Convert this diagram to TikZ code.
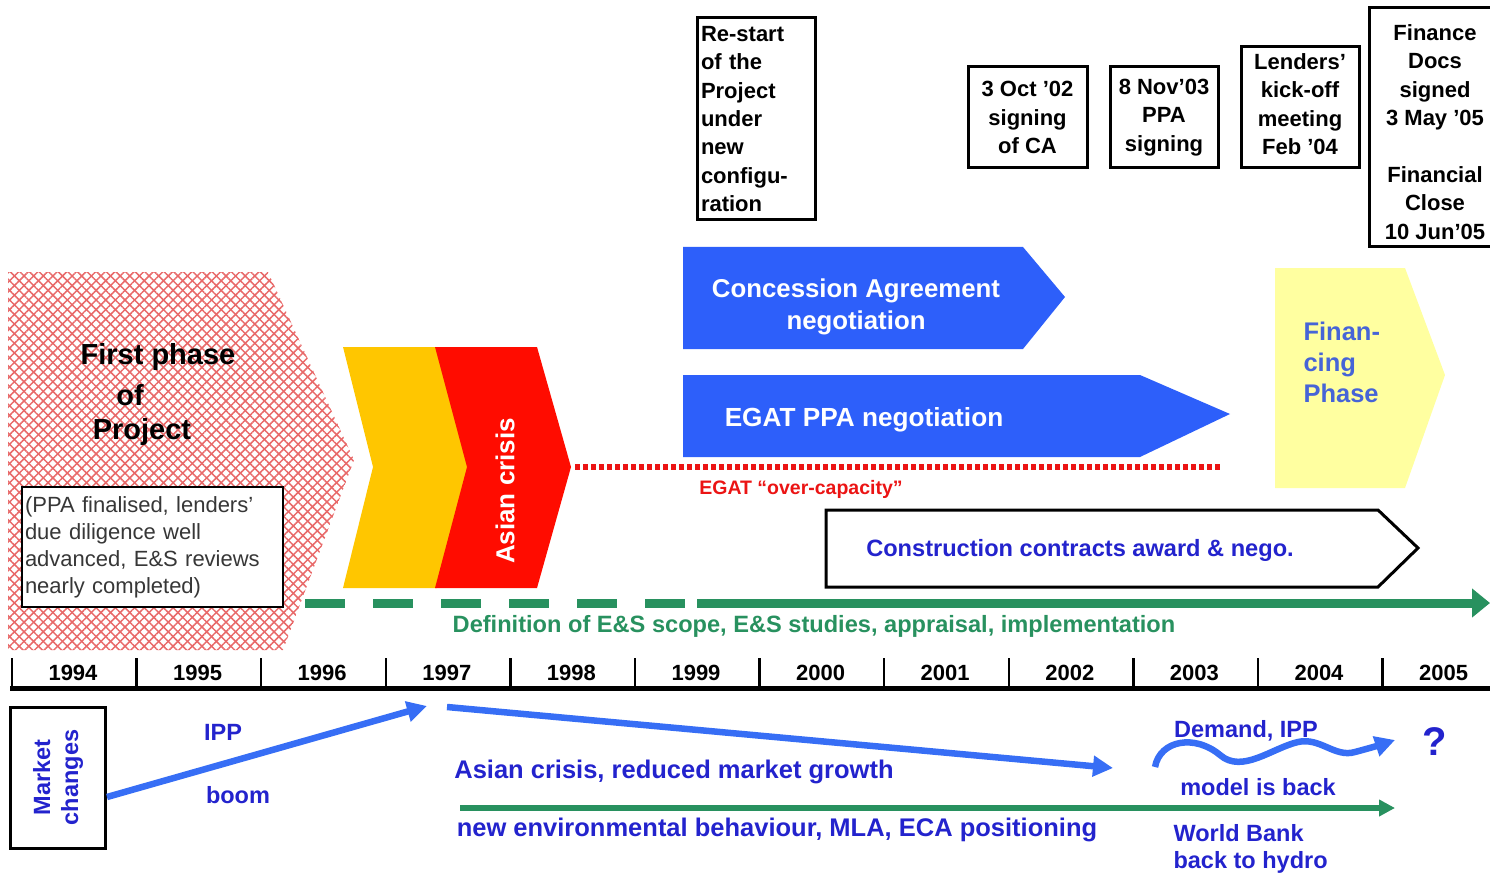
\documentclass[tikz,border=0pt]{standalone}
\usepackage{fontspec}
\setmainfont{Liberation Sans}
\usetikzlibrary{arrows.meta,patterns.meta}

\definecolor{cablue}{RGB}{45,95,250}
\definecolor{arrblue}{RGB}{55,110,245}
\definecolor{txtblue}{RGB}{35,35,205}
\definecolor{finblue}{RGB}{70,100,215}
\definecolor{esgreen}{RGB}{40,145,95}
\definecolor{chevyellow}{RGB}{255,198,0}
\definecolor{chevred}{RGB}{255,12,0}
\definecolor{paleyellow}{RGB}{255,255,160}
\definecolor{hatchred}{RGB}{232,105,105}
\definecolor{dotred}{RGB}{235,20,20}
\definecolor{notegray}{RGB}{55,55,55}

\newcommand\fsz[2]{\fontsize{#1}{#2}\selectfont}

\tikzset{
  datebox/.style={draw=black, line width=3pt, fill=white, align=center,
    font=\fsz{22}{28.5}\bfseries, inner sep=0pt},
  yearlbl/.style={font=\fsz{22}{26}\bfseries, text=black},
  bluetxt/.style={font=\fsz{23.5}{28}\bfseries, text=txtblue},
  bigbluetxt/.style={font=\fsz{25.5}{30}\bfseries, text=txtblue},
  trend/.style={draw=arrblue, line width=6.5pt, -{Triangle[length=20pt,width=20pt]}},
  greentrend/.style={draw=esgreen, line width=6pt, -{Triangle[length=16pt,width=16pt]}},
}

\begin{document}
\begin{tikzpicture}[x=1pt,y=-1pt]
\useasboundingbox (0,0) rectangle (1490,877);

% ---------- first phase (hatched arrow) ----------
\def\firstphase{(8,272) -- (268,272) -- (354,460) -- (283,650) -- (8,650) -- cycle}
\fill[pattern={Lines[angle=45,distance=6.8pt,line width=1.5pt]}, pattern color=hatchred] \firstphase;
\fill[pattern={Lines[angle=-45,distance=6.8pt,line width=1.5pt]}, pattern color=hatchred] \firstphase;
\node[font=\fsz{29}{32}\bfseries] (fp1) at (158,357) {First phase};
\node[font=\fsz{29}{32}\bfseries] (fp2) at (130,395) {of};
\node[font=\fsz{29}{32}\bfseries] (fp3) at (142,432) {Project};
\node[draw=black, line width=2.5pt, fill=white, minimum width=261pt, minimum height=120pt,
      text width=255pt, align=left, inner sep=0pt, font=\fsz{22}{27}, text=notegray]
      (note) at (152.5,547) {(PPA finalised, lenders'\\ due diligence well\\ advanced, E\&S reviews\\ nearly completed)};

% ---------- chevrons ----------
\fill[chevyellow] (343,347) -- (437,347) -- (468,467) -- (437,588) -- (343,588) -- (373,467) -- cycle;
\fill[chevred] (435,347) -- (537,347) -- (571,467) -- (537,588) -- (435,588) -- (467,467) -- cycle;
\node[rotate=90, font=\fsz{26}{30}\bfseries, text=white] (asia) at (505,491) {Asian crisis};

% ---------- over-capacity ----------
\coordinate (ocA) at (575,467);
\coordinate (ocB) at (1222,467);
\draw[dotred, line width=6pt, dash pattern=on 5pt off 3pt] (ocA) -- (ocB);
\node[font=\fsz{19.5}{22}\bfseries, text=dotred] (oclbl) at (801,489) {EGAT “over-capacity”};

% ---------- negotiation arrows ----------
\fill[cablue] (683,247) -- (1023,247) -- (1065,297) -- (1023,349) -- (683,349) -- cycle;
\node[font=\fsz{25.8}{32}\bfseries, text=white, align=center] (ca) at (856,307) {Concession Agreement\\negotiation};
\fill[cablue] (683,375) -- (1140,375) -- (1230,414) -- (1140,457) -- (683,457) -- cycle;
\node[font=\fsz{26.2}{30}\bfseries, text=white] (ppa) at (864,420) {EGAT PPA negotiation};

% ---------- financing phase ----------
\fill[paleyellow] (1275,268) -- (1405,268) -- (1445,375) -- (1405,488) -- (1275,488) -- cycle;
\node[font=\fsz{25.5}{31}\bfseries, text=finblue, align=left, anchor=west] (fin) at (1300,362) {Finan-\\cing\\Phase};

% ---------- construction ----------
\draw[black, line width=3pt, fill=white] (826,510) -- (1378,510) -- (1418,548) -- (1378,587) -- (826,587) -- cycle;
\node[font=\fsz{23.6}{28}\bfseries, text=txtblue] (cons) at (1080,550) {Construction contracts award \& nego.};

% ---------- E&S line ----------
\coordinate (esD) at (305,603);
\coordinate (esE) at (690,603);
\coordinate (esA) at (697,603);
\coordinate (esB) at (1490,603);
\draw[esgreen, line width=9pt, dash pattern=on 40pt off 28pt] (esD) -- (esE);
\draw[esgreen, line width=9pt, -{Triangle[length=18pt,width=28pt]}] (esA) -- (esB);
\node[font=\fsz{23.6}{27}\bfseries, text=esgreen] (eslbl) at (814,626) {Definition of E\&S scope, E\&S studies, appraisal, implementation};

% ---------- milestone boxes ----------
\node[datebox, minimum width=118pt, minimum height=202pt, text width=110pt, align=left,
      font=\fsz{22}{28.4}\bfseries] (restart) at (756,119)
      {Re-start\\of the\\Project\\under\\new\\configu-\\ration};
\node[datebox, minimum width=119pt, minimum height=101pt] (ca02) at (1027.5,117.5) {3 Oct '02\\signing\\of CA};
\node[datebox, minimum width=108pt, minimum height=101pt] (ppa03) at (1164,117.5) {8 Nov'03\\PPA\\signing};
\node[datebox, minimum width=118pt, minimum height=121pt] (kick) at (1300,107.5) {};
\node[font=\fsz{22}{28.4}\bfseries, align=center] (kicktxt) at (1300,104) {Lenders'\\kick-off\\meeting\\Feb '04};
\node[datebox, minimum width=126pt, minimum height=239pt] (fc) at (1432,127.5) {};
\node[font=\fsz{22}{28.4}\bfseries, align=center] (fctxt) at (1435,132)
      {Finance\\Docs\\signed\\3 May '05\\[28.4pt]Financial\\Close\\10 Jun'05};

% ---------- time axis ----------
\draw[black, line width=5pt] (10,688) -- (1490,688);
\foreach \i/\yr in {0/1994,1/1995,2/1996,3/1997,4/1998,5/1999,6/2000,7/2001,8/2002,9/2003,10/2004,11/2005}{
  \draw[black, line width=2.5pt] ({12+124.6*\i},658) -- ({12+124.6*\i},688);
  \node[yearlbl] (y\yr) at ({73+124.6*\i},673) {\yr};
}

% ---------- market changes ----------
\node[draw=black, line width=3pt, minimum width=95pt, minimum height=141pt, inner sep=0pt] (mkt) at (57.5,777.5) {};
\node[rotate=90, font=\fsz{23.5}{28}\bfseries, text=txtblue, align=center] (mkttxt) at (58,777.5) {Market\\changes};

\coordinate (boomA) at (107,797);
\coordinate (boomB) at (427,706);
\draw[trend] (boomA) -- (boomB);
\node[bluetxt] (ipp) at (223,732) {IPP};
\node[bluetxt] (boom) at (238,795) {boom};

\coordinate (crisA) at (447,707);
\coordinate (crisB) at (1113,768);
\draw[trend] (crisA) -- (crisB);
\node[bigbluetxt] (crislbl) at (674,772) {Asian crisis, reduced market growth};

\coordinate (waveA) at (1155,767);
\coordinate (waveB) at (1395,740);
\draw[trend] (waveA) .. controls (1160,740) and (1195,734) .. (1220,755)
  .. controls (1242,774) and (1272,748) .. (1298,742)
  .. controls (1320,737) and (1335,758) .. (1355,752)
  .. controls (1370,748) and (1380,745) .. (waveB);
\node[bluetxt] (dem) at (1246,731) {Demand, IPP};
\node[bluetxt] (model) at (1258,787) {model is back};
\node[font=\fsz{40}{44}\bfseries, text=txtblue] (q) at (1435,742) {?};

\coordinate (envA) at (460,808);
\coordinate (envB) at (1395,808);
\draw[greentrend] (envA) -- (envB);
\node[bigbluetxt] (envlbl) at (777,830) {new environmental behaviour, MLA, ECA positioning};
\node[bluetxt, align=left, anchor=west, font=\fsz{23.5}{27}\bfseries] (wb) at (1170,849) {World Bank\\back to hydro};

\end{tikzpicture}
\end{document}
